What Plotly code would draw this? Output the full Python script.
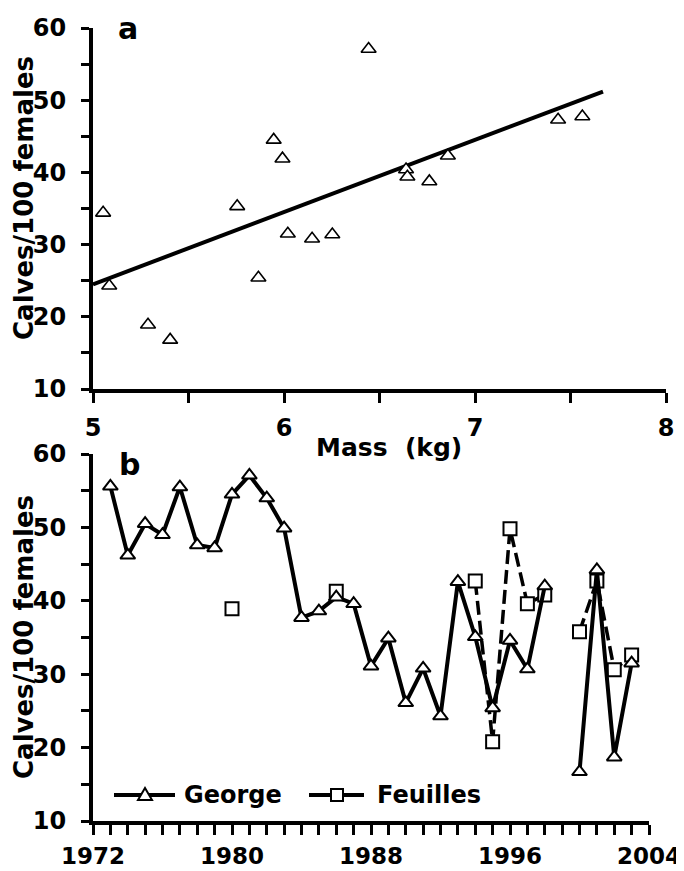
import plotly.graph_objects as go

# ---------------- Panel a data ----------------
mass_kg = [5.053, 5.085, 5.288, 5.404, 5.755, 5.866, 5.946, 5.992, 6.02,
           6.147, 6.253, 6.443, 6.639, 6.646, 6.761, 6.858, 7.435, 7.562]
calves_a = [34.4, 24.3, 18.9, 16.8, 35.3, 25.4, 44.5, 41.9, 31.5,
            30.8, 31.4, 57.1, 40.4, 39.4, 38.75, 42.3, 47.3, 47.75]
fit_mass = [5.0, 7.67]
fit_calves = [24.5, 51.2]

a_xtickvals = [5, 5.5, 6, 6.5, 7, 7.5, 8]
a_xticktext = ["5", "", "6", "", "7", "", "8"]

# ---------------- Panel b data ----------------
years = list(range(1973, 2004))
george = [55.6, 46.2, 50.5, 49.0, 55.5, 47.6, 47.2, 54.5, 57.1, 54.0,
          49.9, 37.7, 38.6, 40.5, 39.6, 31.1, 34.9, 26.1, 30.8, 24.3,
          42.6, 35.1, 25.4, 34.6, 30.7, 42.0, None, 16.7, 44.2, 18.7, 31.5]
feuilles = [None, None, None, None, None, None, None, 38.9, None, None,
            None, None, None, 41.3, None, None, None, None, None, None,
            None, 42.7, 20.8, 49.8, 39.6, 40.8, None, 35.8, 42.7, 30.6, 32.6]

b_xtickvals = list(range(1972, 2005))
b_xticktext = [str(y) if (y - 1972) % 8 == 0 else "" for y in b_xtickvals]

ytickvals = [10, 15, 20, 25, 30, 35, 40, 45, 50, 55, 60]
yticktext = ["10", "", "20", "", "30", "", "40", "", "50", "", "60"]

series_names = ["George", "Feuilles"]

W, H = 684, 871
OFF = 8  # page offset of the figure inside the browser window
FONT = "DejaVu Sans"


def tfont(size):
    return dict(family=FONT, size=size, color="black", weight="bold")


def px(x):
    return (x - OFF) / W


def py(y):
    return 1 - (y - OFF) / H


fig = go.Figure()

# Panel a
fig.add_trace(go.Scatter(x=fit_mass, y=fit_calves, mode="lines",
                         line=dict(color="black", width=4),
                         xaxis="x", yaxis="y", showlegend=False))
fig.add_trace(go.Scatter(x=mass_kg, y=calves_a, mode="markers",
                         marker=dict(symbol="triangle-up", size=13, color="white",
                                     line=dict(color="black", width=1.6)),
                         xaxis="x", yaxis="y", showlegend=False, cliponaxis=False))

# Panel b
fig.add_trace(go.Scatter(x=years, y=feuilles, mode="lines+markers", name=series_names[1],
                         line=dict(color="black", width=3.5, dash="14px,6px"),
                         marker=dict(symbol="square", size=13, color="white",
                                     line=dict(color="black", width=2)),
                         connectgaps=False, xaxis="x2", yaxis="y2",
                         showlegend=False, cliponaxis=False))
fig.add_trace(go.Scatter(x=years, y=george, mode="lines+markers", name=series_names[0],
                         line=dict(color="black", width=4),
                         marker=dict(symbol="triangle-up", size=13, color="white",
                                     line=dict(color="black", width=2)),
                         connectgaps=False, xaxis="x2", yaxis="y2",
                         showlegend=False, cliponaxis=False))

axis_common = dict(showline=True, linewidth=4, linecolor="black", showgrid=False,
                   zeroline=False, ticks="outside", tickwidth=3, tickcolor="black",
                   automargin=False)

fig.update_layout(
    width=W, height=H,
    margin=dict(l=0, r=0, t=0, b=0, autoexpand=False),
    paper_bgcolor="white", plot_bgcolor="white",
    xaxis=dict(domain=[px(93), px(666)], range=[5, 8], anchor="y",
               tickvals=a_xtickvals, ticktext=a_xticktext, ticklen=10,
               ticklabelstandoff=4, tickfont=tfont(24), **axis_common),
    yaxis=dict(domain=[py(389), py(28)], range=[10, 60], anchor="x",
               tickvals=ytickvals, ticktext=yticktext, ticklen=8,
               ticklabelstandoff=10, tickfont=tfont(24), **axis_common),
    xaxis2=dict(domain=[px(93), px(649)], range=[1972, 2004], anchor="y2",
                tickvals=b_xtickvals, ticktext=b_xticktext, ticklen=10,
                ticklabelstandoff=1, tickfont=tfont(23), **axis_common),
    yaxis2=dict(domain=[py(821), py(454)], range=[10, 60], anchor="x2",
                tickvals=ytickvals, ticktext=yticktext, ticklen=8,
                ticklabelstandoff=10, tickfont=tfont(24), **axis_common),
    showlegend=False,
)

# ---- legend drawn by hand (long solid sample lines, as in the reference) ----
leg_y = py(795)
for (x0, x1, xm, xt, name, sym) in [(114, 175, 145, 182, series_names[0], "tri"),
                                    (309, 364, 337, 375, series_names[1], "sq")]:
    fig.add_shape(type="line", xref="paper", yref="paper", x0=px(x0), x1=px(x1),
                  y0=leg_y, y1=leg_y, line=dict(color="black", width=4))
    if sym == "tri":
        fig.add_shape(type="path", xref="paper", yref="paper",
                      xsizemode="pixel", ysizemode="pixel",
                      xanchor=px(xm), yanchor=leg_y,
                      path="M -7 -5 L 7 -5 L 0 7 Z",
                      fillcolor="white", line=dict(color="black", width=2))
    else:
        fig.add_shape(type="rect", xref="paper", yref="paper",
                      xsizemode="pixel", ysizemode="pixel",
                      xanchor=px(xm), yanchor=leg_y, x0=-6, x1=6, y0=-6, y1=6,
                      fillcolor="white", line=dict(color="black", width=2))
    fig.add_annotation(text=name, xref="paper", yref="paper", x=px(xt), y=leg_y,
                       xanchor="left", yanchor="middle", showarrow=False,
                       font=tfont(24))

fig.add_annotation(text="Calves/100 females", textangle=-90, xref="paper", yref="paper",
                   x=px(24), y=py(198), xanchor="center", yanchor="middle",
                   showarrow=False, font=tfont(26))
fig.add_annotation(text="Calves/100 females", textangle=-90, xref="paper", yref="paper",
                   x=px(24), y=py(637), xanchor="center", yanchor="middle",
                   showarrow=False, font=tfont(26))
fig.add_annotation(text="Mass\u00a0 (kg)", xref="x", yref="paper",
                   x=6.55, y=py(447), xanchor="center", yanchor="middle",
                   showarrow=False, font=tfont(25))
fig.add_annotation(text="a", xref="paper", yref="paper",
                   x=px(128), y=py(9), xanchor="center", yanchor="top",
                   showarrow=False, font=tfont(30))
fig.add_annotation(text="b", xref="paper", yref="paper",
                   x=px(129), y=py(464), xanchor="center", yanchor="middle",
                   showarrow=False, font=tfont(30))

fig.write_html("out.html")
